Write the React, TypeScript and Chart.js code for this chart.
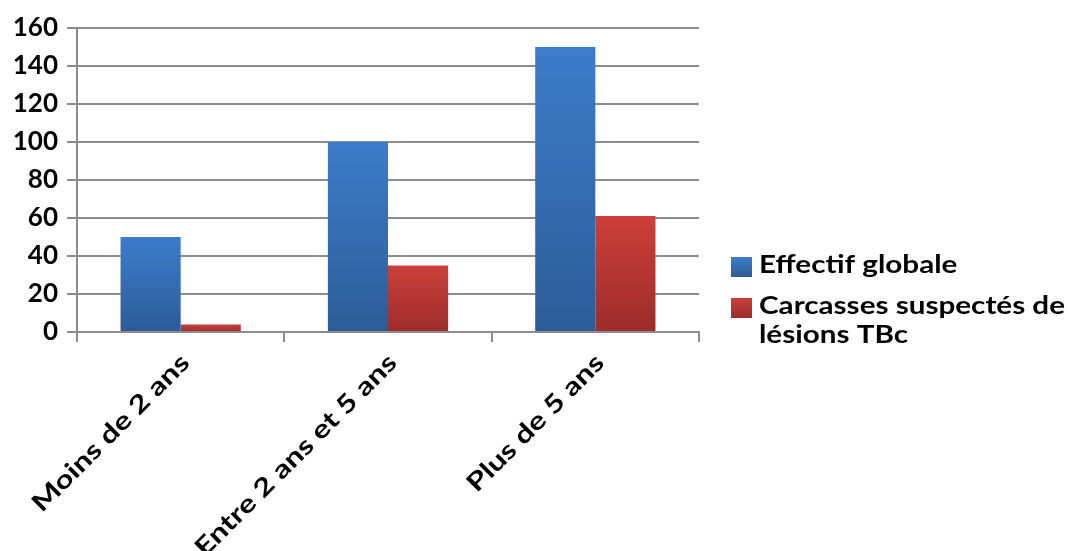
import React, { useEffect, useRef } from "react";
import { Chart, registerables } from "chart.js";

Chart.register(...registerables);

const categories = ["Moins de 2 ans", "Entre 2 ans et 5 ans", "Plus de 5 ans"];
const effectifGlobale = [50, 100, 150];
const carcassesSuspectes = [4, 35, 61];
const seriesLabels = ["Effectif globale", ["Carcasses suspectés de", "lésions TBc"]];
const yTicks = [0, 20, 40, 60, 80, 100, 120, 140, 160];

const FONT = "Lato, 'Open Sans', sans-serif";
const GRID = "#8c8c8c";
// Wide, heavy lettering for category and legend labels.
const TEXT_STRETCH = 1.26;

const blueStops = ["#3d7cca", "#2d5c96"];
const redStops = ["#cd3f3a", "#9b2d2b"];

// Each bar gets its own vertical gradient, light at the top, dark at the base.
function barGradient(stops: string[]) {
  return (ctx: any) => {
    const chart = ctx.chart;
    const y = chart.scales?.y;
    if (!chart.chartArea || !y || ctx.parsed == null) return stops[0];
    const top = y.getPixelForValue(ctx.parsed.y);
    const base = y.getPixelForValue(0);
    const g = chart.ctx.createLinearGradient(0, top, 0, base);
    g.addColorStop(0, stops[0]);
    g.addColorStop(1, stops[1]);
    return g;
  };
}

// Category labels at 45°, drawn with widened glyphs.
const slantedCategoryLabels = {
  id: "slantedCategoryLabels",
  afterDraw(chart: any) {
    const c = chart.ctx;
    const x = chart.scales.x;
    const size = 25;
    c.save();
    c.font = `bold ${size}px ${FONT}`;
    c.fillStyle = "#000";
    c.textAlign = "right";
    c.textBaseline = "middle";
    categories.forEach((label, i) => {
      const px = x.getPixelForTick(i);
      c.save();
      c.translate(px - 6, x.top + 10 + 6);
      c.rotate(-Math.PI / 4);
      c.scale(TEXT_STRETCH, 1);
      c.fillText(label, 0, (size * 1.2) / 2);
      c.restore();
    });
    c.restore();
  },
};

// Legend drawn at the right of the plot, with a wrapped second entry.
const sideLegend = {
  id: "sideLegend",
  afterDraw(chart: any) {
    const c = chart.ctx;
    const boxX = 731;
    const textX = 759;
    const entries = [
      { stops: blueStops, lines: [seriesLabels[0] as string], baseline: 273 },
      { stops: redStops, lines: seriesLabels[1] as string[], baseline: 314 },
    ];
    c.save();
    c.font = `bold 24px ${FONT}`;
    c.textBaseline = "alphabetic";
    c.textAlign = "left";
    for (const e of entries) {
      const boxTop = e.baseline - 16;
      const g = c.createLinearGradient(0, boxTop, 0, boxTop + 20);
      g.addColorStop(0, e.stops[0]);
      g.addColorStop(1, e.stops[1]);
      c.fillStyle = g;
      c.fillRect(boxX, boxTop, 21, 20);
      c.fillStyle = "#000";
      e.lines.forEach((line, i) => {
        c.save();
        c.translate(textX, e.baseline + i * 29);
        c.scale(TEXT_STRETCH * 0.98, 1);
        c.fillText(line, 0, 0);
        c.restore();
      });
    }
    c.restore();
  },
};

export default function App() {
  const ref = useRef<HTMLCanvasElement>(null);

  useEffect(() => {
    if (!ref.current) return;
    const chart = new Chart(ref.current, {
      type: "bar",
      data: {
        labels: categories,
        datasets: [
          {
            label: seriesLabels[0] as string,
            data: effectifGlobale,
            backgroundColor: barGradient(blueStops),
            borderWidth: 0,
          },
          {
            label: (seriesLabels[1] as string[]).join(" "),
            data: carcassesSuspectes,
            backgroundColor: barGradient(redStops),
            borderWidth: 0,
          },
        ],
      },
      options: {
        responsive: false,
        animation: false,
        layout: { padding: { top: 28, right: 370, left: 0, bottom: 0 } },
        datasets: {
          bar: { categoryPercentage: 0.58, barPercentage: 1.0 },
        },
        plugins: {
          legend: { display: false },
          tooltip: { enabled: false },
        },
        scales: {
          x: {
            grid: {
              drawOnChartArea: false,
              drawTicks: true,
              tickLength: 10,
              color: GRID,
              lineWidth: 2,
              offset: true,
            },
            border: { display: true, color: GRID, width: 2 },
            ticks: { display: false, autoSkip: false },
            afterFit(scale: any) {
              scale.height = 219;
            },
          },
          y: {
            min: 0,
            max: 160,
            afterBuildTicks(scale: any) {
              scale.ticks = yTicks.map((v) => ({ value: v }));
            },
            grid: {
              color: GRID,
              lineWidth: 2,
              tickLength: 10,
              drawTicks: true,
            },
            border: { display: true, color: GRID, width: 2 },
            ticks: {
              padding: 9,
              color: "#000",
              font: { family: FONT, size: 26, weight: "bold" },
            },
            afterFit(scale: any) {
              scale.width = 77;
            },
          },
        },
      },
      plugins: [slantedCategoryLabels, sideLegend],
    });
    return () => chart.destroy();
  }, []);

  return (
    <div style={{ position: "absolute", left: 0, top: 0, width: 1069, height: 551, background: "#fff" }}>
      <canvas ref={ref} width={1069} height={551} style={{ display: "block" }} />
    </div>
  );
}
